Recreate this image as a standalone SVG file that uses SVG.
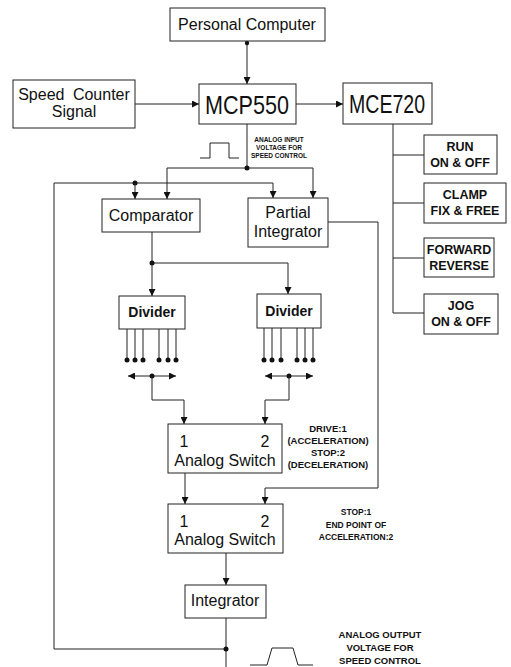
<svg xmlns="http://www.w3.org/2000/svg" width="511" height="667" viewBox="0 0 511 667">
<defs>
<marker id="ah" viewBox="0 0 8 8" refX="8" refY="4" markerWidth="7" markerHeight="7" orient="auto-start-reverse" markerUnits="userSpaceOnUse"><path d="M0,0 L8,4 L0,8 z" fill="#111"/></marker>
<style>
.box{fill:#fff;stroke:#222;stroke-width:1}
.ln{fill:none;stroke:#222;stroke-width:1}
.ar{fill:none;stroke:#222;stroke-width:1;marker-end:url(#ah)}
.da{fill:none;stroke:#222;stroke-width:1;marker-end:url(#ah);marker-start:url(#ah)}
.dot{fill:#111}
text{font-family:"Liberation Sans",Arial,sans-serif;fill:#111;text-anchor:middle}
.t16{font-size:16px}
.big{font-size:26px}
.dv{font-size:14px;font-weight:bold}
.sm{font-size:12.5px;font-weight:bold}
.lb{font-size:9.5px;font-weight:bold}
.lb2{font-size:8.5px;font-weight:bold}
.tiny{font-size:6.5px;font-weight:bold}
</style>
</defs>
<rect width="511" height="667" fill="#fff"/>

<g id="connectors">
<line class="ar" x1="247" y1="43" x2="247" y2="84"/>
<circle class="dot" cx="247" cy="43" r="2.2"/>
<line class="ar" x1="135" y1="104" x2="199" y2="104"/>
<line class="ar" x1="296" y1="104" x2="343" y2="104"/>
<line class="ln" x1="247" y1="124" x2="247" y2="168"/>
<line class="ln" x1="167" y1="168" x2="313" y2="168"/>
<circle class="dot" cx="247" cy="168" r="2.5"/>
<line class="ar" x1="167" y1="168" x2="167" y2="199"/>
<line class="ar" x1="313" y1="168" x2="313" y2="198"/>
<polyline class="ln" points="226,649 54,649 54,183 273,183"/>
<circle class="dot" cx="135" cy="183" r="2.5"/>
<line class="ar" x1="135" y1="183" x2="135" y2="199"/>
<line class="ar" x1="273" y1="183" x2="273" y2="198"/>
<line class="ln" x1="152" y1="232" x2="152" y2="263"/>
<line class="ln" x1="152" y1="263" x2="288" y2="263"/>
<circle class="dot" cx="152" cy="263" r="2.5"/>
<line class="ar" x1="152" y1="263" x2="152" y2="296"/>
<polyline class="ar" points="288,263 288,294"/>
<!-- divider pins -->
<g id="pins-left">
<line class="ln" x1="127" y1="329" x2="127" y2="360"/><circle class="dot" cx="127" cy="360" r="2.5"/>
<line class="ln" x1="135" y1="329" x2="135" y2="360"/><circle class="dot" cx="135" cy="360" r="2.5"/>
<line class="ln" x1="143" y1="329" x2="143" y2="360"/><circle class="dot" cx="143" cy="360" r="2.5"/>
<line class="ln" x1="159" y1="329" x2="159" y2="360"/><circle class="dot" cx="159" cy="360" r="2.5"/>
<line class="ln" x1="168" y1="329" x2="168" y2="360"/><circle class="dot" cx="168" cy="360" r="2.5"/>
<line class="ln" x1="176" y1="329" x2="176" y2="360"/><circle class="dot" cx="176" cy="360" r="2.5"/>
</g>
<g id="pins-right">
<line class="ln" x1="264" y1="328" x2="264" y2="360"/><circle class="dot" cx="264" cy="360" r="2.5"/>
<line class="ln" x1="272" y1="328" x2="272" y2="360"/><circle class="dot" cx="272" cy="360" r="2.5"/>
<line class="ln" x1="281" y1="328" x2="281" y2="360"/><circle class="dot" cx="281" cy="360" r="2.5"/>
<line class="ln" x1="297" y1="328" x2="297" y2="360"/><circle class="dot" cx="297" cy="360" r="2.5"/>
<line class="ln" x1="305" y1="328" x2="305" y2="360"/><circle class="dot" cx="305" cy="360" r="2.5"/>
<line class="ln" x1="313" y1="328" x2="313" y2="360"/><circle class="dot" cx="313" cy="360" r="2.5"/>
</g>
<line class="da" x1="128" y1="376" x2="176" y2="376"/>
<circle class="dot" cx="152" cy="376" r="2.5"/>
<line class="da" x1="265" y1="376" x2="313" y2="376"/>
<circle class="dot" cx="289" cy="376" r="2.5"/>
<polyline class="ar" points="152,376 152,400 184,400 184,424"/>
<polyline class="ar" points="289,376 289,400 265,400 265,424"/>
<polyline class="ar" points="328,222 378,222 378,488 265,488 265,504"/>
<line class="ar" x1="185" y1="473" x2="185" y2="504"/>
<line class="ar" x1="226" y1="553" x2="226" y2="585"/>
<line class="ln" x1="226" y1="618" x2="226" y2="667"/>
<circle class="dot" cx="226" cy="649" r="2.5"/>
<!-- MCE720 bus -->
<line class="ln" x1="393" y1="124" x2="393" y2="313"/>
<line class="ln" x1="393" y1="155" x2="424" y2="155"/>
<line class="ln" x1="393" y1="203" x2="424" y2="203"/>
<line class="ln" x1="393" y1="258" x2="424" y2="258"/>
<line class="ln" x1="393" y1="313" x2="424" y2="313"/>
</g>

<g id="pulses">
<polyline class="ln" points="200,158 210,158 210,143 229,143 229,158 239,158"/>
<polyline class="ln" points="250,665 267,665 272,648 293,648 298,665 313,665"/>
</g>

<g id="pc"><rect class="box" x="170" y="8" width="155" height="33"/><text class="t16" x="247" y="30">Personal Computer</text></g>
<g id="speed"><rect class="box" x="13" y="80" width="122" height="48"/><text class="t16" x="74" y="100" word-spacing="4">Speed Counter</text><text class="t16" x="74" y="117">Signal</text></g>
<g id="mcp550"><rect class="box" x="199" y="84" width="97" height="40"/><text class="big" x="247" y="114" textLength="84" lengthAdjust="spacingAndGlyphs">MCP550</text></g>
<g id="mce720"><rect class="box" x="343" y="83" width="89" height="41"/><text class="big" x="387" y="113" textLength="76" lengthAdjust="spacingAndGlyphs">MCE720</text></g>
<g id="run"><rect class="box" x="424" y="135" width="73" height="39"/><text class="sm" x="460" y="151">RUN</text><text class="sm" x="460" y="167">ON &amp; OFF</text></g>
<g id="clamp"><rect class="box" x="424" y="183" width="82" height="40"/><text class="sm" x="465" y="199">CLAMP</text><text class="sm" x="465" y="215">FIX &amp; FREE</text></g>
<g id="forward"><rect class="box" x="424" y="238" width="70" height="39"/><text class="sm" x="459" y="254">FORWARD</text><text class="sm" x="459" y="270">REVERSE</text></g>
<g id="jog"><rect class="box" x="424" y="294" width="74" height="40"/><text class="sm" x="461" y="310">JOG</text><text class="sm" x="461" y="326">ON &amp; OFF</text></g>
<g id="input-label"><text class="tiny" x="279" y="142">ANALOG INPUT</text><text class="tiny" x="279" y="150">VOLTAGE FOR</text><text class="tiny" x="279" y="158">SPEED CONTROL</text></g>
<g id="comparator"><rect class="box" x="102" y="199" width="98" height="33"/><text class="t16" x="151" y="221">Comparator</text></g>
<g id="partial"><rect class="box" x="248" y="198" width="80" height="49"/><text class="t16" x="288" y="218">Partial</text><text class="t16" x="288" y="237">Integrator</text></g>
<g id="divider1"><rect class="box" x="119" y="296" width="66" height="33"/><text class="dv" x="152" y="317">Divider</text></g>
<g id="divider2"><rect class="box" x="257" y="294" width="64" height="34"/><text class="dv" x="289" y="316">Divider</text></g>
<g id="switch1"><rect class="box" x="168" y="424" width="114" height="49"/><text class="t16" x="184" y="447">1</text><text class="t16" x="265" y="447">2</text><text class="t16" x="225" y="466">Analog Switch</text></g>
<g id="switch1-label"><text class="lb" x="328" y="432">DRIVE:1</text><text class="lb" x="328" y="444">(ACCELERATION)</text><text class="lb" x="328" y="456">STOP:2</text><text class="lb" x="328" y="468">(DECELERATION)</text></g>
<g id="switch2"><rect class="box" x="168" y="504" width="115" height="49"/><text class="t16" x="184" y="527">1</text><text class="t16" x="265" y="527">2</text><text class="t16" x="225" y="545">Analog Switch</text></g>
<g id="switch2-label"><text class="lb2" x="356" y="515">STOP:1</text><text class="lb2" x="356" y="528">END POINT OF</text><text class="lb2" x="356" y="540">ACCELERATION:2</text></g>
<g id="integrator"><rect class="box" x="185" y="585" width="81" height="33"/><text class="t16" x="225" y="606">Integrator</text></g>
<g id="output-label"><text class="lb" x="380" y="638">ANALOG OUTPUT</text><text class="lb" x="380" y="651">VOLTAGE FOR</text><text class="lb" x="380" y="664">SPEED CONTROL</text></g>
</svg>
